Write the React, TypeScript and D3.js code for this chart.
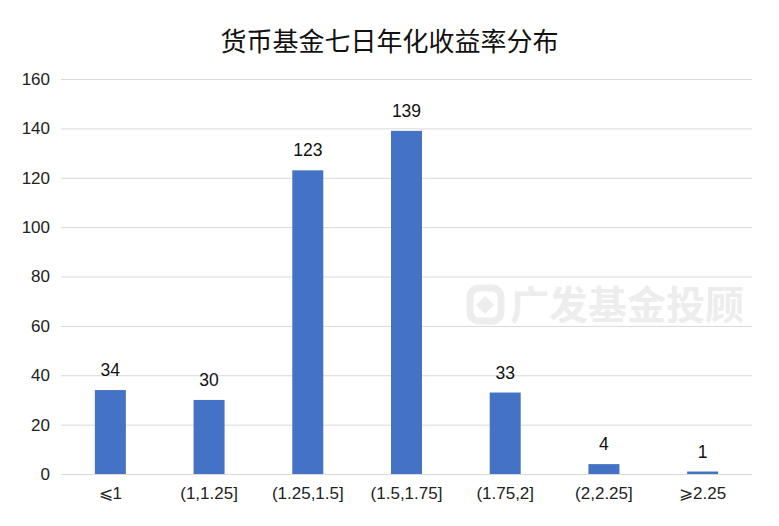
import { useRef, useEffect } from "react";
import * as d3 from "d3";

const categories = ["⩽1", "(1,1.25]", "(1.25,1.5]", "(1.5,1.75]", "(1.75,2]", "(2,2.25]", "⩾2.25"];
const counts = [34, 30, 123, 139, 33, 4, 1];
const yTicks = [0, 20, 40, 60, 80, 100, 120, 140, 160];

const W = 779;
const H = 526;
const FONT = "'Liberation Sans', Arial, 'Noto Sans CJK SC', sans-serif";

export default function App() {
  const svgRef = useRef<SVGSVGElement>(null);

  useEffect(() => {
    if (!svgRef.current) return;
    const svg = d3.select(svgRef.current);
    svg.selectAll("*").remove();

    const margin = { top: 79, right: 27, bottom: 52, left: 61 };
    const innerWidth = W - margin.left - margin.right;
    const innerHeight = H - margin.top - margin.bottom;

    svg.append("rect").attr("width", W).attr("height", H).attr("fill", "#fff");

    // Title
    svg
      .append("text")
      .attr("x", W / 2)
      .attr("y", 51)
      .attr("text-anchor", "middle")
      .attr("font-family", "'Noto Sans CJK SC', sans-serif")
      .attr("font-size", "26px")
      .attr("fill", "#111")
      .text("货币基金七日年化收益率分布");

    const g = svg.append("g").attr("transform", `translate(${margin.left}, ${margin.top})`);

    const x = d3.scaleBand().domain(categories).range([0, innerWidth]).paddingInner(0.686).paddingOuter(0.343);
    const y = d3.scaleLinear().domain([0, 160]).range([innerHeight, 0]);

    // Grid lines
    g.append("g")
      .call(d3.axisLeft(y).tickValues(yTicks).tickSize(-innerWidth).tickFormat(() => ""))
      .call((g) => g.select(".domain").remove())
      .call((g) => g.selectAll(".tick line").attr("stroke", "#D9D9D9").attr("stroke-width", 1));

    // Watermark
    const wm = svg.append("g");
    wm.append("rect")
      .attr("x", 470)
      .attr("y", 288)
      .attr("width", 31)
      .attr("height", 33)
      .attr("rx", 9)
      .attr("fill", "none")
      .attr("stroke", "#EDEDED")
      .attr("stroke-width", 7);
    wm.append("path")
      .attr("d", "M485,296 L494,305 L485,314 L476,305 Z")
      .attr("fill", "#EDEDED");
    wm.append("text")
      .attr("x", 510)
      .attr("y", 319)
      .attr("font-family", "'Noto Sans CJK SC', sans-serif")
      .attr("font-size", "39px")
      .attr("font-weight", "700")
      .attr("fill", "#EDEDED")
      .text("广发基金投顾");

    // Bars
    g.selectAll(".bar")
      .data(categories)
      .enter()
      .append("rect")
      .attr("x", (d) => x(d) || 0)
      .attr("y", (_, i) => y(counts[i]))
      .attr("width", x.bandwidth())
      .attr("height", (_, i) => innerHeight - y(counts[i]))
      .attr("fill", "#4472C4");

    // Value labels
    g.selectAll(".label")
      .data(categories)
      .enter()
      .append("text")
      .attr("x", (d) => (x(d) || 0) + x.bandwidth() / 2)
      .attr("y", (_, i) => y(counts[i]) - 14)
      .attr("text-anchor", "middle")
      .attr("font-family", FONT)
      .attr("font-size", "17.5px")
      .attr("fill", "#111")
      .text((_, i) => counts[i]);

    // X axis
    g.append("g")
      .attr("transform", `translate(0, ${innerHeight})`)
      .call(d3.axisBottom(x).tickSize(0).tickPadding(13))
      .call((g) => g.select(".domain").remove())
      .call((g) =>
        g.selectAll(".tick text").attr("fill", "#222").attr("font-size", "17px").attr("font-family", FONT)
      );

    // Y axis
    g.append("g")
      .call(d3.axisLeft(y).tickValues(yTicks).tickSize(0).tickPadding(11))
      .call((g) => g.select(".domain").remove())
      .call((g) =>
        g.selectAll(".tick text").attr("fill", "#222").attr("font-size", "17px").attr("font-family", FONT)
      );
  }, []);

  return <svg ref={svgRef} width={W} height={H} style={{ display: "block", margin: -8 }} />;
}
